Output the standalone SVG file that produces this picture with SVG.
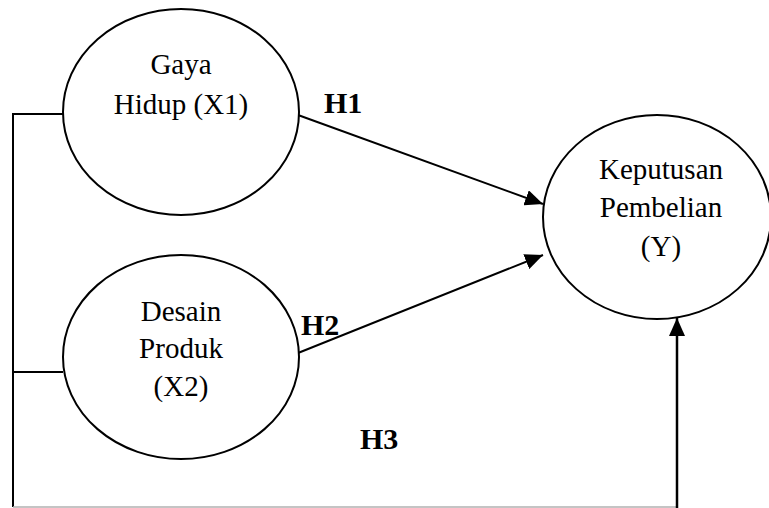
<svg xmlns="http://www.w3.org/2000/svg" width="769" height="508" viewBox="0 0 769 508">
<style>
.node ellipse{fill:#fff;stroke:#000;stroke-width:2}
.lbl{font-family:"Liberation Serif","Times New Roman",serif;font-size:29px;fill:#000;text-anchor:middle}
.h{font-family:"Liberation Serif","Times New Roman",serif;font-size:30px;font-weight:bold;fill:#000}
.conn line,.conn polyline{stroke:#000;stroke-width:2;fill:none}
</style>
<defs>
<marker id="arr" viewBox="0 0 18 16" refX="18" refY="8" markerWidth="18" markerHeight="16" markerUnits="userSpaceOnUse" orient="auto">
<path d="M0,0 L18,8 L0,16 Z" fill="#000"/>
</marker>
</defs>
<rect width="769" height="508" fill="#fff"/>
<g id="connectors" class="conn">
<line x1="298" y1="115" x2="543" y2="204" marker-end="url(#arr)"/>
<line x1="298" y1="353" x2="543" y2="255" marker-end="url(#arr)"/>
<polyline points="63,114 13,114 13,507"/>
<line x1="13" y1="372" x2="63" y2="372"/>
<line x1="13" y1="507" x2="677" y2="507" style="stroke:#b0b0b0;stroke-width:1.5"/>
<line x1="677" y1="508" x2="677" y2="318" style="stroke-width:2.5" marker-end="url(#arr)"/>
</g>
<g id="gaya-hidup" class="node">
<ellipse cx="181" cy="112" rx="118" ry="103"/>
<text class="lbl" x="181" y="74">Gaya</text>
<text class="lbl" x="181" y="114">Hidup (X1)</text>
</g>
<g id="desain-produk" class="node">
<ellipse cx="181" cy="357" rx="118" ry="102"/>
<text class="lbl" x="181" y="321">Desain</text>
<text class="lbl" x="181" y="358">Produk</text>
<text class="lbl" x="181" y="396">(X2)</text>
</g>
<g id="keputusan" class="node">
<ellipse cx="657" cy="217" rx="114" ry="102"/>
<text class="lbl" x="661" y="179">Keputusan</text>
<text class="lbl" x="661" y="217">Pembelian</text>
<text class="lbl" x="661" y="256">(Y)</text>
</g>
<g id="labels">
<text class="h" x="324" y="113">H1</text>
<text class="h" x="301" y="335">H2</text>
<text class="h" x="360" y="449">H3</text>
</g>
</svg>
